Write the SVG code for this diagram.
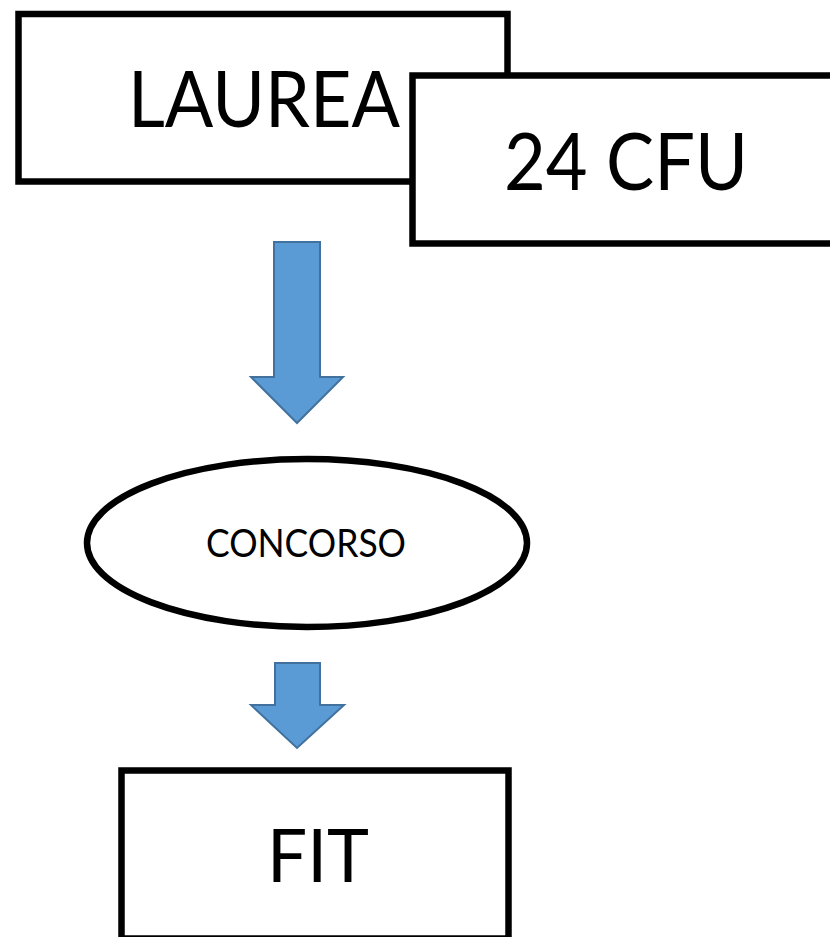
<svg xmlns="http://www.w3.org/2000/svg" width="830" height="937" viewBox="0 0 830 937">
<style>
.box{fill:#FFFFFF;stroke:#000000;stroke-width:6.5}
.lbl{font-family:Lato,"Open Sans","Liberation Sans",sans-serif;fill:#000000}
.arr{fill:#5B9BD5;stroke:#41719C;stroke-width:2;stroke-linejoin:miter}
</style>
<rect width="830" height="937" fill="#FFFFFF"/>
<g id="connectors">
<polygon class="arr" points="274,242 320,242 320,377 343,377 297,423 251,377 274,377"/>
<polygon class="arr" points="275,663 320,663 320,705 344,705 297,748 251,705 275,705"/>
</g>
<g id="node-laurea">
<rect class="box" x="18.5" y="14" width="489" height="167.5"/>
<text class="lbl" x="128" y="127" font-size="77" textLength="272" lengthAdjust="spacingAndGlyphs">LAUREA</text>
</g>
<g id="node-24cfu">
<rect class="box" x="412.5" y="75.5" width="430" height="168"/>
<text class="lbl" x="504" y="190" font-size="79" textLength="244" lengthAdjust="spacingAndGlyphs">24 CFU</text>
</g>
<g id="node-concorso">
<ellipse class="box" cx="307" cy="543" rx="220" ry="84" stroke-width="6"/>
<text class="lbl" x="206" y="557" font-size="38" textLength="200" lengthAdjust="spacingAndGlyphs">CONCORSO</text>
</g>
<g id="node-fit">
<rect class="box" x="121.5" y="770.5" width="387" height="168"/>
<text class="lbl" x="267" y="882" font-size="74" textLength="102" lengthAdjust="spacingAndGlyphs">FIT</text>
</g>
</svg>
